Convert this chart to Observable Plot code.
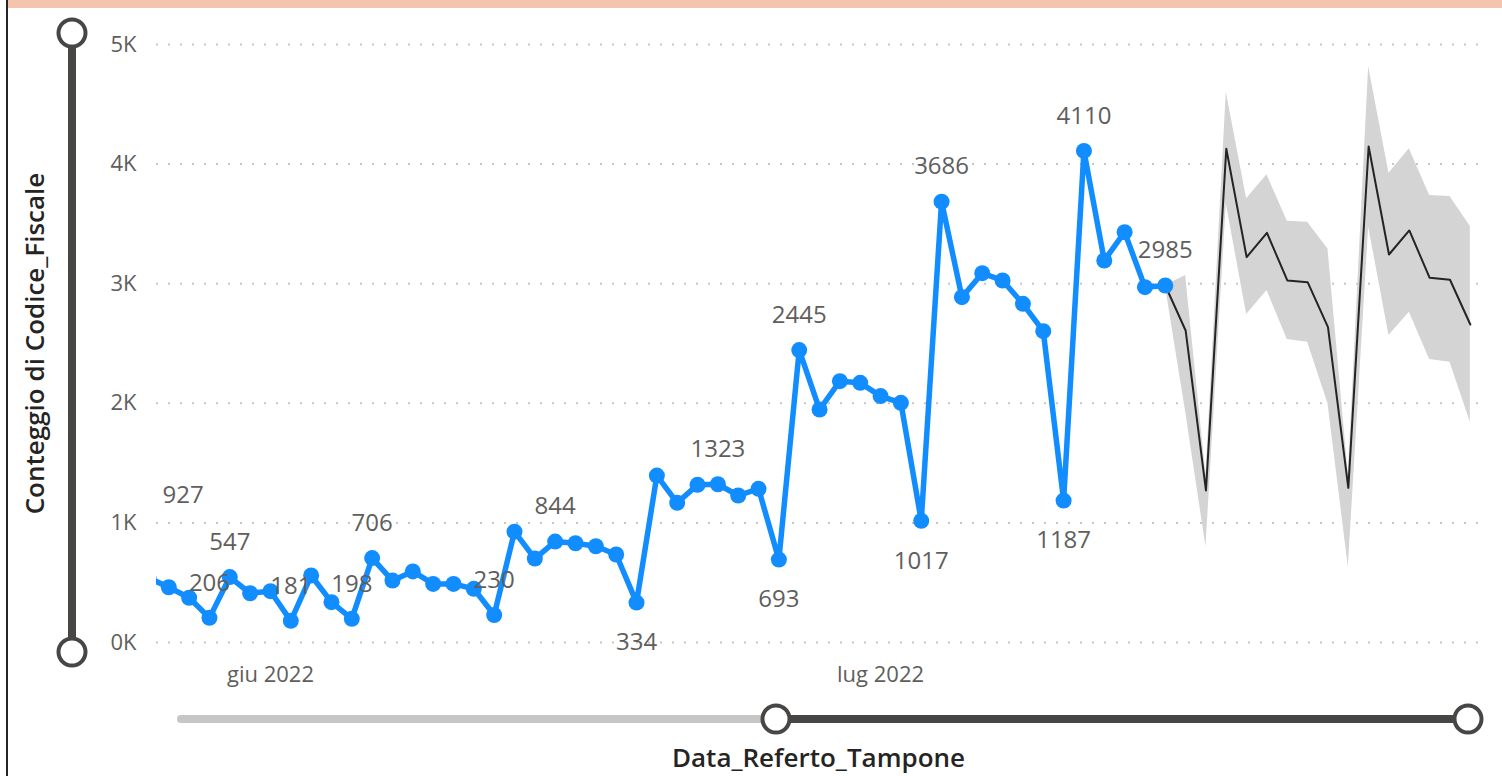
<!DOCTYPE html>
<html><head><meta charset="utf-8">
<script src="https://cdn.jsdelivr.net/npm/d3@7"></script>
<script src="https://cdn.jsdelivr.net/npm/@observablehq/plot@0.6"></script>
<style>
body{margin:0;background:#fff;font-family:"Segoe UI","Open Sans",sans-serif;}
#wrap{position:relative;width:1502px;height:776px;overflow:hidden;}
#strip{position:absolute;left:8px;top:0;width:1494px;height:8px;background:#F4C4AE;}
#border{position:absolute;left:6px;top:0;width:2px;height:776px;background:#252423;}
</style></head><body>
<div id="wrap"><div id="chart"></div><div id="strip"></div><div id="border"></div></div>
<script>
// ---- data ----
const actualStart = "2022-05-26";
const actualEnd = "2022-07-15";
const actualValues = [
  540, 462, 374, 206, 547, 412,
  429, 181, 560, 337, 198, 706, 518, 594, 490, 490, 449, 230, 927, 702, 844,
  830, 805, 736, 334, 1396, 1168, 1318, 1323, 1229, 1285, 693, 2445, 1948, 2185, 2171,
  2060, 2004, 1017, 3686, 2887, 3088, 3027, 2832, 2603, 1187, 4110, 3194, 3431, 2971, 2985
];
const forecastStart = "2022-07-15";
const forecastEnd = "2022-07-30";
const forecastValues = [2985, 2609, 1271, 4128, 3222, 3425, 3027, 3013, 2637, 1293, 4147, 3244, 3445, 3049, 3033, 2659];
const forecastUpper  = [2985, 3069, 1400, 4601, 3710, 3910, 3523, 3514, 3291, 1400, 4816, 3924, 4128, 3737, 3729, 3478];
const forecastLower  = [2985, 1930,  800, 3668, 2742, 2943, 2533, 2511, 1996,  630, 3473, 2567, 2762, 2366, 2344, 1842];
const labelsAbove = ["2022-05-29","2022-05-30","2022-06-02","2022-06-05","2022-06-06","2022-06-12","2022-06-15","2022-06-23","2022-06-27","2022-07-04","2022-07-11","2022-07-15"];
const labelsBelow = ["2022-06-19","2022-06-26","2022-07-03","2022-07-10"];
const strayLabel = {date: "2022-05-27T17:00Z", value: 1229, text: "927"};
const yTicks = [0, 1000, 2000, 3000, 4000, 5000];
const xTicks = ["2022-06-01", "2022-07-01"];
const monthsIt = ["gen","feb","mar","apr","mag","giu","lug","ago","set","ott","nov","dic"];
const yTitle = "Conteggio di Codice_Fiscale";
const xTitle = "Data_Referto_Tampone";
const xDomain = ["2022-05-26T09:30Z", "2022-07-30T12:00Z"];

// ---- build tables ----
const utc = s => new Date(s.length === 10 ? s + "T00:00Z" : s);
const actualDates = d3.utcDay.range(utc(actualStart), d3.utcDay.offset(utc(actualEnd), 1));
const actual = actualDates.map((d, i) => ({date: d, value: actualValues[i]}));
const fDates = d3.utcDay.range(utc(forecastStart), d3.utcDay.offset(utc(forecastEnd), 1));
const forecast = fDates.map((d, i) => ({date: d, value: forecastValues[i], hi: forecastUpper[i], lo: forecastLower[i]}));
const key = d => d3.utcFormat("%Y-%m-%d")(d);
const above = actual.filter(d => labelsAbove.includes(key(d.date)));
const below = actual.filter(d => labelsBelow.includes(key(d.date)));

const grey = "#605E5C";
const blue = "#118DFF";
const dark = "#484644";

const chart = Plot.plot({
  width: 1502, height: 776,
  marginLeft: 156, marginRight: 22, marginTop: 44, marginBottom: 134,
  style: {fontFamily: '"Segoe UI","Open Sans",sans-serif', background: "transparent"},
  x: {type: "utc", domain: xDomain.map(utc)},
  y: {domain: [0, 5000]},
  marks: [
    Plot.gridY(yTicks, {stroke: "#C8C6C4", strokeOpacity: 1, strokeWidth: 2, strokeDasharray: "2 10"}),
    Plot.axisY(yTicks, {tickSize: 0, tickPadding: 20, fontSize: 22, fill: grey, label: null, tickFormat: d => d / 1000 + "K"}),
    Plot.axisX(xTicks.map(utc), {tickSize: 0, tickPadding: 24, fontSize: 22, fill: grey, label: null,
      tickFormat: d => monthsIt[d.getUTCMonth()] + " " + d.getUTCFullYear()}),
    Plot.areaY(forecast, {x: "date", y1: "lo", y2: "hi", fill: "#D4D4D4", clip: true}),
    Plot.lineY(forecast, {x: "date", y: "value", stroke: "#252423", strokeWidth: 2, clip: true}),
    Plot.lineY(actual, {x: "date", y: "value", stroke: blue, strokeWidth: 5.5, clip: true}),
    Plot.dot(actual, {x: "date", y: "value", r: 8, fill: blue, clip: true}),
    Plot.text(above, {x: "date", y: "value", text: d => String(d.value), dy: -35, fontSize: 24, fill: grey, lineAnchor: "middle"}),
    Plot.text(below, {x: "date", y: "value", text: d => String(d.value), dy: 40, fontSize: 24, fill: grey, lineAnchor: "middle"}),
    Plot.text([strayLabel], {x: d => utc(d.date), y: "value", text: "text", fontSize: 24, fill: grey, lineAnchor: "middle"}),
    Plot.text([yTitle], {frameAnchor: "left", dx: -121, rotate: -90, fontSize: 26, fill: "#252423", fontWeight: 600, lineAnchor: "middle", textAnchor: "middle"}),
    Plot.text([xTitle], {frameAnchor: "bottom", dy: 116, fontSize: 26, fill: "#252423", fontWeight: 600, lineAnchor: "middle", textAnchor: "middle"})
  ]
});
document.getElementById("chart").appendChild(chart);

// ---- slider decorations (UI chrome) ----
const svg = d3.select(chart);
const g = svg.append("g");
g.append("line").attr("x1", 72).attr("x2", 72).attr("y1", 33).attr("y2", 652).attr("stroke", dark).attr("stroke-width", 8);
g.append("line").attr("x1", 181).attr("x2", 776).attr("y1", 719).attr("y2", 719).attr("stroke", "#C8C6C4").attr("stroke-width", 8).attr("stroke-linecap", "round");
g.append("line").attr("x1", 776).attr("x2", 1468).attr("y1", 719).attr("y2", 719).attr("stroke", dark).attr("stroke-width", 8);
[[72, 33], [72, 652], [776, 719], [1468, 719]].forEach(([cx, cy]) =>
  g.append("circle").attr("cx", cx).attr("cy", cy).attr("r", 13.5).attr("fill", "#fff").attr("stroke", dark).attr("stroke-width", 4));
</script>
</body></html>
